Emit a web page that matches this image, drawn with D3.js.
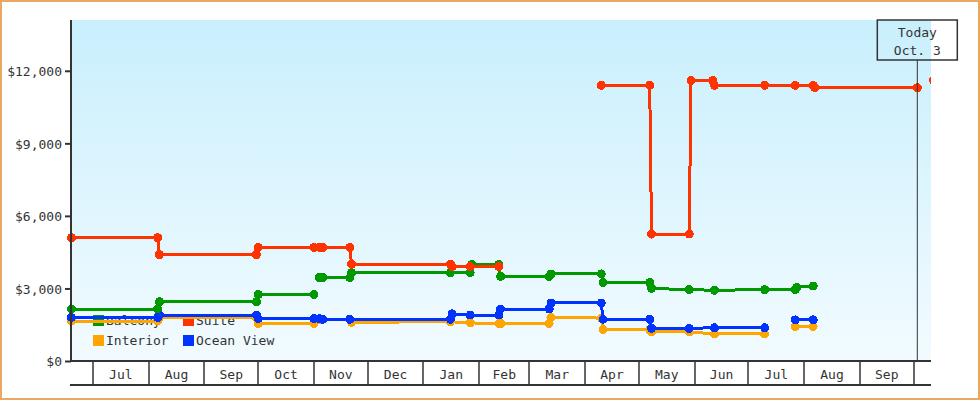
<!DOCTYPE html>
<html>
<head>
<meta charset="utf-8">
<script src="https://cdn.jsdelivr.net/npm/d3@7/dist/d3.min.js"></script>
<style>
  html, body { margin: 0; padding: 0; background: #fff; }
  svg text { font-family: "DejaVu Sans Mono", monospace; font-size: 13px; fill: #333; }
</style>
</head>
<body>
<svg id="chart" width="980" height="400"></svg>
<script>
// ---------- data ----------
const seriesNames = ["Balcony", "Suite", "Interior", "Ocean View"];
const seriesColors = ["#009900", "#ff3300", "#ffa500", "#0033ff"];

const balconyDates = ["2012-06-19","2012-08-06","2012-08-07","2012-09-30","2012-10-01","2012-11-01",null,
  "2012-11-04","2012-11-06","2012-11-21","2012-11-22","2013-01-16","2013-01-27","2013-01-28","2013-02-12",
  "2013-02-13","2013-03-12","2013-03-13","2013-04-10","2013-04-11","2013-05-07","2013-05-08","2013-05-29",
  "2013-06-12","2013-07-10","2013-07-27","2013-07-28","2013-08-06"];
const balconyValues = [2150,2150,2450,2450,2750,2750,null,
  3450,3450,3450,3650,3650,3650,4000,4000,
  3500,3500,3600,3600,3250,3250,3000,2950,
  2925,2950,2950,3050,3100];

const suiteDates = ["2012-06-19","2012-08-06","2012-08-07","2012-09-30","2012-10-01","2012-11-01",null,
  "2012-11-04","2012-11-06","2012-11-21","2012-11-22","2013-01-16","2013-01-17","2013-01-27","2013-02-12",null,
  "2013-04-10","2013-05-07","2013-05-08","2013-05-29","2013-05-30","2013-06-11","2013-06-12","2013-07-10",
  "2013-07-27","2013-08-06","2013-08-07","2013-10-03",null,"2013-10-12"];
const suiteValues = [5100,5100,4400,4400,4700,4700,null,
  4700,4700,4700,4000,4000,3900,3900,3900,null,
  11400,11400,5250,5250,11600,11600,11400,11400,
  11400,11400,11300,11300,null,11600];

const interiorDates = ["2012-06-19","2012-08-06","2012-08-07","2012-09-30","2012-10-01","2012-11-01",null,
  "2012-11-04","2012-11-06","2012-11-21","2012-11-22","2013-01-16","2013-01-27","2013-02-12","2013-02-13",
  "2013-03-12","2013-03-13","2013-04-10","2013-04-11","2013-05-07","2013-05-08","2013-05-29","2013-06-12",
  "2013-07-10",null,"2013-07-27","2013-08-06"];
const interiorValues = [1650,1650,1800,1800,1550,1550,null,
  1725,1725,1725,1600,1625,1575,1550,1550,
  1550,1800,1775,1300,1300,1200,1200,1125,
  1125,null,1425,1425];

const oceanDates = ["2012-06-19","2012-08-06","2012-08-07","2012-09-30","2012-10-01","2012-11-01",null,
  "2012-11-04","2012-11-06","2012-11-21","2013-01-16","2013-01-17","2013-01-27","2013-02-12","2013-02-13",
  "2013-03-12","2013-03-13","2013-04-10","2013-04-11","2013-05-07","2013-05-08","2013-05-29","2013-06-12",
  "2013-07-10",null,"2013-07-27","2013-08-06"];
const oceanValues = [1800,1800,1900,1900,1750,1750,null,
  1750,1725,1725,1725,1950,1900,1900,2150,
  2150,2400,2400,1725,1725,1350,1350,1375,
  1375,null,1700,1700];

const yTickValues = [0, 3000, 6000, 9000, 12000];
const todayDate = "2013-10-03";
const todayLabel = ["Today", "Oct. 3"];

// ---------- drawing ----------
(function draw() {
const parse = d3.timeParse("%Y-%m-%d");
const svg = d3.select("#chart");
const W = 980, H = 400;
const pLeft = 71, pRight = 931, pTop = 20, pBottom = 361;

const x = d3.scaleTime()
  .domain([new Date(2012, 5, 18, 18), new Date(2013, 9, 10, 15)])
  .range([pLeft, pRight]);
const y = d3.scaleLinear().domain([0, 14100]).range([pBottom, pTop]);

// outer border
svg.append("rect").attr("x", 1).attr("y", 1).attr("width", W - 2).attr("height", H - 2)
  .attr("fill", "#fff").attr("stroke", "#e9a85f").attr("stroke-width", 2);

// gradient background
const defs = svg.append("defs");
const grad = defs.append("linearGradient").attr("id", "bg").attr("x1", 0).attr("y1", 0).attr("x2", 0).attr("y2", 1);
grad.append("stop").attr("offset", "0%").attr("stop-color", "#c9effd");
grad.append("stop").attr("offset", "100%").attr("stop-color", "#f2fbff");
defs.append("clipPath").attr("id", "clip").append("rect")
  .attr("x", 55).attr("y", 0).attr("width", pRight - 55).attr("height", H);

svg.append("rect").attr("x", pLeft + 1).attr("y", pTop).attr("width", pRight - pLeft - 1).attr("height", pBottom - pTop)
  .attr("fill", "url(#bg)");

// legend (drawn under lines)
const legendPos = [[93, 315], [183, 315], [93, 335], [183, 335]];
const legend = svg.append("g");
seriesNames.forEach((n, i) => {
  const [lx, ly] = legendPos[i];
  legend.append("rect").attr("x", lx).attr("y", ly).attr("width", 11).attr("height", 11)
    .attr("fill", seriesColors[i]).attr("shape-rendering", "crispEdges");
  legend.append("text").attr("x", lx + 13).attr("y", ly + 10).text(n);
});

// series
const series = [
  {dates: interiorDates, values: interiorValues, color: seriesColors[2]},
  {dates: oceanDates, values: oceanValues, color: seriesColors[3]},
  {dates: balconyDates, values: balconyValues, color: seriesColors[0]},
  {dates: suiteDates, values: suiteValues, color: seriesColors[1]}
];
const line = d3.line()
  .defined(d => d.v != null)
  .x(d => x(d.t)).y(d => y(d.v));
const plot = svg.append("g").attr("clip-path", "url(#clip)");
series.forEach(s => {
  const pts = s.dates.map((d, i) => ({t: d ? parse(d) : null, v: s.values[i]}));
  plot.append("path").datum(pts).attr("d", line)
    .attr("fill", "none").attr("stroke", s.color).attr("stroke-width", 3)
    .attr("shape-rendering", "crispEdges");
  plot.selectAll(null).data(pts.filter(p => p.v != null)).enter().append("circle")
    .attr("cx", p => x(p.t)).attr("cy", p => y(p.v)).attr("r", 4.5)
    .attr("fill", s.color).attr("shape-rendering", "crispEdges");
});

// y axis
const yAxis = d3.axisLeft(y).tickValues(yTickValues).tickSize(6).tickSizeOuter(0)
  .tickFormat(d3.format("$,"));
const yg = svg.append("g").attr("transform", `translate(${pLeft},0)`).call(yAxis);
yg.select(".domain").remove();
yg.selectAll(".tick line").attr("stroke", "#333").attr("stroke-width", 2);
yg.selectAll(".tick text").attr("x", -9).attr("dy", "0.36em")
  .style("font-family", "DejaVu Sans Mono, monospace").style("font-size", "13px").attr("fill", "#333");
svg.append("line").attr("x1", pLeft).attr("x2", pLeft).attr("y1", pTop).attr("y2", pBottom + 1)
  .attr("stroke", "#333").attr("stroke-width", 2);

// x axis: month boxes
svg.append("line").attr("x1", 70).attr("x2", pRight).attr("y1", pBottom).attr("y2", pBottom)
  .attr("stroke", "#333").attr("stroke-width", 2);
svg.append("line").attr("x1", 70).attr("x2", pRight).attr("y1", 385).attr("y2", 385)
  .attr("stroke", "#333").attr("stroke-width", 2);
const months = d3.timeMonth.range(x.domain()[0], x.domain()[1]);
const fmt = d3.timeFormat("%b");
const xg = svg.append("g");
months.forEach(m => {
  const mx = Math.round(x(m));
  xg.append("line").attr("x1", mx).attr("x2", mx).attr("y1", pBottom).attr("y2", 385)
    .attr("stroke", "#333").attr("stroke-width", 1.5);
  const next = d3.timeMonth.offset(m, 1);
  if (next <= x.domain()[1]) {
    xg.append("text").attr("x", (x(m) + x(next)) / 2).attr("y", 379)
      .attr("text-anchor", "middle").text(fmt(m));
  }
});

// today marker
const tx = x(parse(todayDate));
svg.append("line").attr("x1", tx).attr("x2", tx).attr("y1", 60).attr("y2", pBottom)
  .attr("stroke", "#333").attr("stroke-width", 1);
svg.append("rect").attr("x", tx - 40).attr("y", 20).attr("width", 80).attr("height", 40)
  .attr("fill", "none").attr("stroke", "#333").attr("stroke-width", 1.5);
svg.append("text").attr("x", tx).attr("y", 37).attr("text-anchor", "middle").text(todayLabel[0]);
svg.append("text").attr("x", tx).attr("y", 55).attr("text-anchor", "middle").text(todayLabel[1]);
})();
</script>
</body>
</html>
